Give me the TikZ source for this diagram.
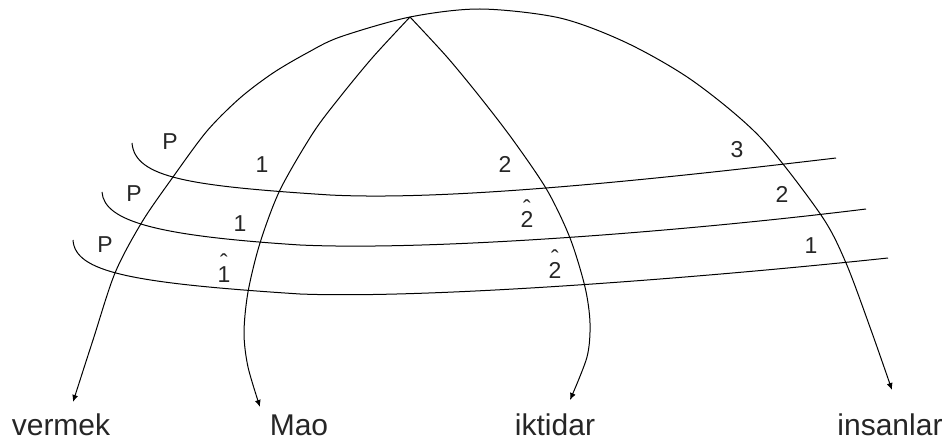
\documentclass[tikz,border=0pt]{standalone}
\usepackage{fontspec}
\setmainfont{Liberation Sans}
\usetikzlibrary{arrows.meta}
\newcommand\hatdig[1]{\ooalign{#1\cr\hidewidth\raisebox{11.5pt}{ˆ}\hidewidth\cr}}
\begin{document}
\begin{tikzpicture}[x=1pt,y=-1pt,
  curve/.style={line width=1pt,black},
  tipend/.style={-{Latex[length=7pt,width=6pt]}},
  bothends/.style={{Latex[length=7pt,width=6pt]}-{Latex[length=7pt,width=6pt]}},
  lab/.style={font=\fontsize{30}{36}\selectfont,anchor=base,inner sep=0pt,text=black!85},
  num/.style={font=\fontsize{23}{27}\selectfont,anchor=base,inner sep=0pt,text=black!85}]
\useasboundingbox (0,0) rectangle (946,441);

% end labels
\node[lab] (vermek) at (61,435) {vermek};
\node[lab] (mao) at (299,435) {Mao};
\node[lab] (iktidar) at (555,435) {iktidar};
\node[lab] (insanlar) at (890,435) {insanlar};

% key points
\coordinate (apex) at (410,17);
\coordinate (vtip) at (73,402);
\coordinate (mtip) at (260,407);
\coordinate (ktip) at (570,400);
\coordinate (itip) at (892,390);

% outer arc
\draw[curve,bothends] plot[smooth] coordinates {(vtip) (93,340) (115,273) (142,222) (173,177) (207,131) (240,98) (273,73) (307,53) (340,37) (apex) (480,9) (560,18) (627,43) (693,81) (760,137) (821,215) (846,263) (871,330) (itip)};

% Mao curve
\draw[curve,tipend] plot[smooth] coordinates {(apex) (373,57) (340,97) (313,133) (280,190) (260,243) (248,292) (244,333) (248,367) (mtip)};

% iktidar curve
\draw[curve,tipend] plot[smooth] coordinates {(apex) (447,57) (480,97) (513,140) (547,190) (570,238) (585,287) (590,323) (587,357) (ktip)};

% horizontal curves
\draw[curve] (132,143) .. controls (135,178) and (190,186) .. (330,195)
  .. controls (450,201) and (650,180) .. (836,158);
\draw[curve] (102,192) .. controls (104,222) and (160,236) .. (300,245)
  .. controls (430,251) and (680,232) .. (866,209);
\draw[curve] (73,240) .. controls (75,272) and (130,283) .. (300,294)
  .. controls (430,299) and (700,278) .. (888,258);

% small labels
\node[num] (p1) at (170,150) {P};
\node[num] (p2) at (134,202) {P};
\node[num] (p3) at (105,252) {P};
\node[num] (a1) at (262,173) {1};
\node[num] (a2) at (240,232) {1};
\node[num] (a3) at (224,282) {\hatdig{1}};
\node[num] (b1) at (505,173) {2};
\node[num] (b2) at (527,228) {\hatdig{2}};
\node[num] (b3) at (555,278) {\hatdig{2}};
\node[num] (c1) at (737,158) {3};
\node[num] (c2) at (782,203) {2};
\node[num] (c3) at (811,253) {1};
\end{tikzpicture}
\end{document}
